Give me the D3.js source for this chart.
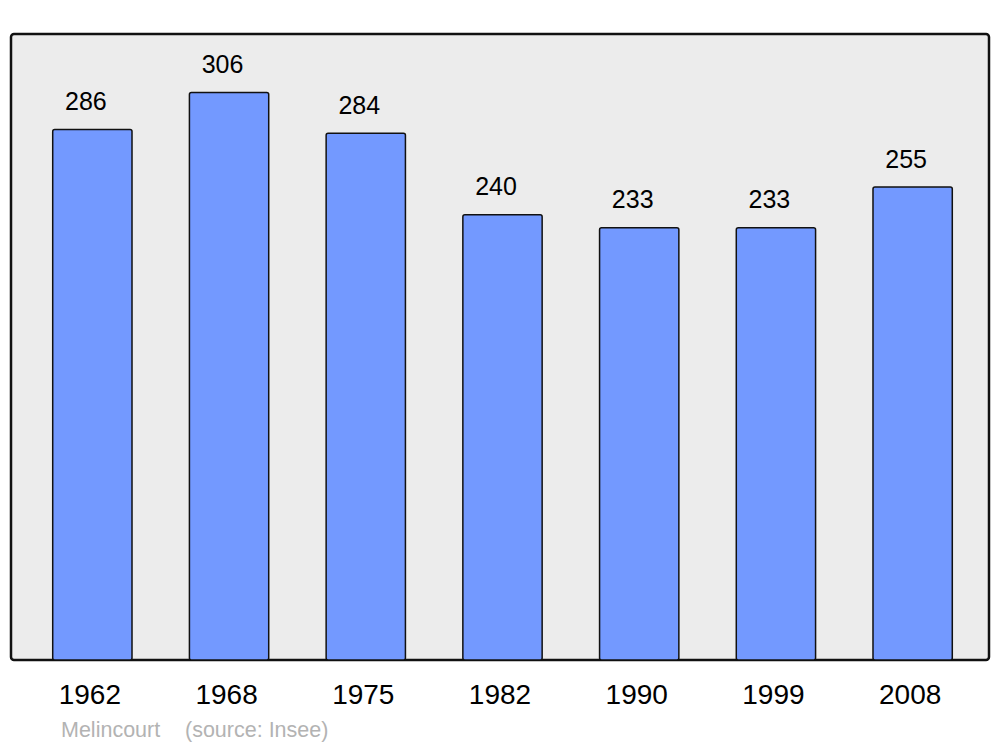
<!DOCTYPE html>
<html>
<head>
<meta charset="utf-8">
<script src="https://cdn.jsdelivr.net/npm/d3@7"></script>
<style>
  body { margin: 0; background: #fff; }
  text { font-family: "Liberation Sans", Arial, sans-serif; }
</style>
</head>
<body>
<svg class="chart"></svg>
<script>
const W = 1000;
const H = 747;

// Data
var years = ["1962", "1968", "1975", "1982", "1990", "1999", "2008"];
var population = [286, 306, 284, 240, 233, 233, 255];
var town = "Melincourt";
var source = "(source: Insee)";

var svg = d3.select('.chart')
    .attr("width", W)
    .attr("height", H);

// Panel
var panel = {x: 11, y: 34, w: 978, h: 626};
svg.append("rect")
    .attr("x", panel.x)
    .attr("y", panel.y)
    .attr("width", panel.w)
    .attr("height", panel.h)
    .attr("rx", 3)
    .attr("fill", "#ececec")
    .attr("stroke", "#111")
    .attr("stroke-width", 2.5);

// Scales
var scaleX = d3.scaleBand()
    .domain(years)
    .range([24, 981])
    .paddingInner(0.42)
    .paddingOuter(0.21);
var scaleY = d3.scaleLinear()
    .domain([0, 337.5])
    .range([panel.y + panel.h, panel.y]);

// Bars
svg.selectAll(".bar")
    .data(years)
    .enter().append("rect")
    .attr("class", "bar")
    .attr("x", d => scaleX(d))
    .attr("y", (d, i) => scaleY(population[i]))
    .attr("width", scaleX.bandwidth())
    .attr("height", (d, i) => scaleY(0) - scaleY(population[i]))
    .attr("rx", 2)
    .attr("fill", "#7399ff")
    .attr("stroke", "#111")
    .attr("stroke-width", 1.5);

// Value labels
svg.selectAll(".val")
    .data(years)
    .enter().append("text")
    .attr("class", "val")
    .attr("x", d => scaleX(d) + scaleX.bandwidth() / 2 - 6.5)
    .attr("y", (d, i) => scaleY(population[i]) - 19.5)
    .attr("text-anchor", "middle")
    .style("font-size", "25px")
    .text((d, i) => population[i]);

// X axis labels
svg.selectAll(".year")
    .data(years)
    .enter().append("text")
    .attr("class", "year")
    .attr("x", d => scaleX(d) + scaleX.bandwidth() / 2 - 2.5)
    .attr("y", 704)
    .attr("text-anchor", "middle")
    .style("font-size", "28px")
    .text(d => d);

// Source
svg.append("text")
    .attr("x", 61)
    .attr("y", 737)
    .style("font-size", "21.5px")
    .attr("fill", "#b3b3b3")
    .text(town);
svg.append("text")
    .attr("x", 185)
    .attr("y", 737)
    .style("font-size", "21.5px")
    .attr("fill", "#b3b3b3")
    .text(source);
</script>
</body>
</html>
